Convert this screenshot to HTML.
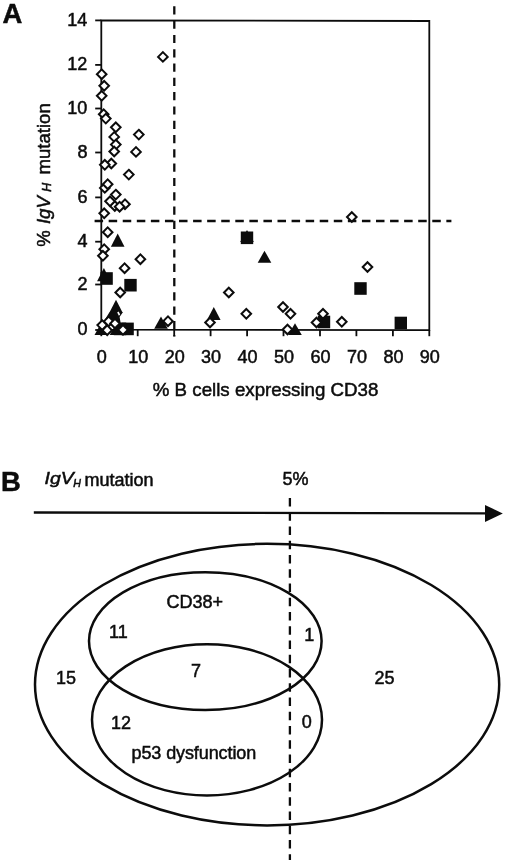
<!DOCTYPE html>
<html lang="en"><head><meta charset="utf-8"><title>Figure</title>
<style>
html,body{margin:0;padding:0;background:#fff;}
body{width:520px;height:866px;overflow:hidden;}
svg{display:block;filter:grayscale(1) blur(0.35px);font-family:"Liberation Sans",Arial,Helvetica,sans-serif;fill:#0c0c0c;}
.ax{stroke:#0c0c0c;stroke-width:1.8;fill:none;}
.dash{stroke:#0c0c0c;stroke-width:2.3;fill:none;}
.dm{fill:#fff;stroke:#0c0c0c;stroke-width:2;}
.bk{fill:#0c0c0c;stroke:none;}
.el{fill:none;stroke:#0c0c0c;stroke-width:2.5;}
.t{font-size:18px;stroke:#0c0c0c;stroke-width:0.5;}
.tb{font-size:18px;stroke:#0c0c0c;stroke-width:0.5;}
.pl{font-size:27.4px;font-weight:bold;stroke:#0c0c0c;stroke-width:0.5;}
</style></head><body>
<svg width="520" height="866" viewBox="0 0 520 866">
<rect x="0" y="0" width="520" height="866" fill="#fff"/>

<text class="pl" x="2.5" y="22.5">A</text>
<path class="ax" d="M101.3 20.3 L429.3 21 L429.3 330.2 L101.3 329.6 Z"/>
<path class="ax" d="M95.2 330.0 H101.3"/>
<text class="t" x="87.4" y="335.3" text-anchor="end">0</text>
<path class="ax" d="M95.2 284.5 H101.3"/>
<text class="t" x="87.4" y="289.8" text-anchor="end">2</text>
<path class="ax" d="M95.2 241.7 H101.3"/>
<text class="t" x="87.4" y="247.0" text-anchor="end">4</text>
<path class="ax" d="M95.2 197.4 H101.3"/>
<text class="t" x="87.4" y="202.7" text-anchor="end">6</text>
<path class="ax" d="M95.2 152.5 H101.3"/>
<text class="t" x="87.4" y="157.8" text-anchor="end">8</text>
<path class="ax" d="M95.2 108.5 H101.3"/>
<text class="t" x="87.4" y="113.8" text-anchor="end">10</text>
<path class="ax" d="M95.2 64.9 H101.3"/>
<text class="t" x="87.4" y="70.2" text-anchor="end">12</text>
<path class="ax" d="M95.2 20.4 H101.3"/>
<text class="t" x="87.4" y="25.7" text-anchor="end">14</text>
<path class="ax" d="M101.3 330 V336.2"/>
<text class="t" x="101.8" y="362.8" text-anchor="middle">0</text>
<path class="ax" d="M137.7 330 V336.2"/>
<text class="t" x="138.2" y="362.8" text-anchor="middle">10</text>
<path class="ax" d="M174.2 330 V336.2"/>
<text class="t" x="174.7" y="362.8" text-anchor="middle">20</text>
<path class="ax" d="M210.6 330 V336.2"/>
<text class="t" x="211.1" y="362.8" text-anchor="middle">30</text>
<path class="ax" d="M247.1 330 V336.2"/>
<text class="t" x="247.6" y="362.8" text-anchor="middle">40</text>
<path class="ax" d="M283.5 330 V336.2"/>
<text class="t" x="284.0" y="362.8" text-anchor="middle">50</text>
<path class="ax" d="M320.0 330 V336.2"/>
<text class="t" x="320.5" y="362.8" text-anchor="middle">60</text>
<path class="ax" d="M356.4 330 V336.2"/>
<text class="t" x="356.9" y="362.8" text-anchor="middle">70</text>
<path class="ax" d="M392.9 330 V336.2"/>
<text class="t" x="393.4" y="362.8" text-anchor="middle">80</text>
<path class="ax" d="M429.3 330 V336.2"/>
<text class="t" x="429.8" y="362.8" text-anchor="middle">90</text>
<path class="dash" d="M174.3 6.3 V336.5" stroke-dasharray="8.2 6.1"/>
<path class="dash" d="M94.6 221 H451.4" stroke-dasharray="8.5 5.57"/>
<path class="bk" d="M117.7 233.6 L124.5 246.7 L110.9 246.7 Z"/>
<path class="bk" d="M103.9 268.1 L110.7 281.3 L97.10000000000001 281.3 Z"/>
<path class="bk" d="M116 299.8 L122.8 313 L109.2 313 Z"/>
<path class="bk" d="M101.3 322.9 L108.1 335 L94.5 335 Z"/>
<path class="bk" d="M116.5 322.9 L123.3 335 L109.7 335 Z"/>
<path class="bk" d="M161 316.4 L167.8 328.8 L154.2 328.8 Z"/>
<path class="bk" d="M213.8 306.9 L220.60000000000002 320 L207.0 320 Z"/>
<path class="bk" d="M264.5 250.7 L271.3 262.7 L257.7 262.7 Z"/>
<path class="bk" d="M295 323.2 L301.8 335 L288.2 335 Z"/>
<path class="bk" d="M247 229.9 L253.8 242 L240.2 242 Z"/>
<path class="bk" d="M109.3 312.6 L104.6 320 L109 325 L121 325 L119.6 317 L122.7 312.6 Z"/>
<rect class="bk" x="100.4" y="272.2" width="12.4" height="12.6"/>
<rect class="bk" x="124.3" y="278.9" width="12.4" height="12.6"/>
<rect class="bk" x="121.4" y="322.6" width="12.4" height="12.6"/>
<rect class="bk" x="113.8" y="322.6" width="12.4" height="12.6"/>
<rect class="bk" x="240.8" y="231.5" width="12.4" height="12.6"/>
<rect class="bk" x="354.3" y="282.2" width="12.4" height="12.6"/>
<rect class="bk" x="317.8" y="315.7" width="12.4" height="12.6"/>
<rect class="bk" x="394.6" y="316.7" width="12.4" height="12.6"/>
<path class="dm" d="M162.9 52.1 L167.7 56.9 L162.9 61.7 L158.1 56.9 Z"/>
<path class="dm" d="M101.7 69.4 L106.5 74.2 L101.7 79.0 L96.9 74.2 Z"/>
<path class="dm" d="M104.2 81.0 L109.0 85.8 L104.2 90.6 L99.4 85.8 Z"/>
<path class="dm" d="M101.7 91.0 L106.5 95.8 L101.7 100.6 L96.9 95.8 Z"/>
<path class="dm" d="M103.7 109.4 L108.5 114.2 L103.7 119.0 L98.9 114.2 Z"/>
<path class="dm" d="M105.8 113.8 L110.6 118.6 L105.8 123.4 L101.0 118.6 Z"/>
<path class="dm" d="M115.8 122.5 L120.6 127.3 L115.8 132.1 L111.0 127.3 Z"/>
<path class="dm" d="M114.2 132.1 L119.0 136.9 L114.2 141.7 L109.4 136.9 Z"/>
<path class="dm" d="M115.8 139.8 L120.6 144.6 L115.8 149.4 L111.0 144.6 Z"/>
<path class="dm" d="M114.2 146.7 L119.0 151.5 L114.2 156.3 L109.4 151.5 Z"/>
<path class="dm" d="M138.8 129.8 L143.6 134.6 L138.8 139.4 L134.0 134.6 Z"/>
<path class="dm" d="M136 147.1 L140.8 151.9 L136 156.7 L131.2 151.9 Z"/>
<path class="dm" d="M111.3 158.7 L116.1 163.5 L111.3 168.3 L106.5 163.5 Z"/>
<path class="dm" d="M104.8 160.0 L109.6 164.8 L104.8 169.6 L100.0 164.8 Z"/>
<path class="dm" d="M128.8 169.8 L133.6 174.6 L128.8 179.4 L124.0 174.6 Z"/>
<path class="dm" d="M104.8 183.1 L109.6 187.9 L104.8 192.7 L100.0 187.9 Z"/>
<path class="dm" d="M107.7 179.4 L112.5 184.2 L107.7 189.0 L102.9 184.2 Z"/>
<path class="dm" d="M115.8 189.8 L120.6 194.6 L115.8 199.4 L111.0 194.6 Z"/>
<path class="dm" d="M114.8 201.2 L119.6 206 L114.8 210.8 L110.0 206 Z"/>
<path class="dm" d="M110 196.5 L114.8 201.3 L110 206.1 L105.2 201.3 Z"/>
<path class="dm" d="M125 199.4 L129.8 204.2 L125 209.0 L120.2 204.2 Z"/>
<path class="dm" d="M119.6 201.9 L124.4 206.7 L119.6 211.5 L114.8 206.7 Z"/>
<path class="dm" d="M104.2 208.5 L109.0 213.3 L104.2 218.1 L99.4 213.3 Z"/>
<path class="dm" d="M107.7 227.4 L112.5 232.2 L107.7 237.0 L102.9 232.2 Z"/>
<path class="dm" d="M104.2 244.4 L109.0 249.2 L104.2 254.0 L99.4 249.2 Z"/>
<path class="dm" d="M102.9 251.0 L107.7 255.8 L102.9 260.6 L98.1 255.8 Z"/>
<path class="dm" d="M140.4 254.4 L145.2 259.2 L140.4 264.0 L135.6 259.2 Z"/>
<path class="dm" d="M124.6 263.4 L129.4 268.2 L124.6 273.0 L119.8 268.2 Z"/>
<path class="dm" d="M120.2 287.7 L125.0 292.5 L120.2 297.3 L115.4 292.5 Z"/>
<path class="dm" d="M108.7 316.6 L113.5 321.4 L108.7 326.2 L103.9 321.4 Z"/>
<path class="dm" d="M115 318.7 L119.8 323.5 L115 328.3 L110.2 323.5 Z"/>
<path class="dm" d="M102.2 320.3 L107.0 325.1 L102.2 329.9 L97.4 325.1 Z"/>
<path class="dm" d="M107.2 325.4 L112.0 330.2 L107.2 335.0 L102.4 330.2 Z"/>
<path class="dm" d="M123 325.1 L127.8 329.9 L123 334.7 L118.2 329.9 Z"/>
<path class="dm" d="M168 316.4 L172.8 321.2 L168 326.0 L163.2 321.2 Z"/>
<path class="dm" d="M228.8 287.7 L233.6 292.5 L228.8 297.3 L224.0 292.5 Z"/>
<path class="dm" d="M210 317.7 L214.8 322.5 L210 327.3 L205.2 322.5 Z"/>
<path class="dm" d="M246.3 309.0 L251.1 313.8 L246.3 318.6 L241.5 313.8 Z"/>
<path class="dm" d="M283 302.2 L287.8 307 L283 311.8 L278.2 307 Z"/>
<path class="dm" d="M290.5 309.0 L295.3 313.8 L290.5 318.6 L285.7 313.8 Z"/>
<path class="dm" d="M287.5 324.7 L292.3 329.5 L287.5 334.3 L282.7 329.5 Z"/>
<path class="dm" d="M316.5 317.7 L321.3 322.5 L316.5 327.3 L311.7 322.5 Z"/>
<path class="dm" d="M351.8 212.2 L356.6 217 L351.8 221.8 L347.0 217 Z"/>
<path class="dm" d="M367.5 262.2 L372.3 267 L367.5 271.8 L362.7 267 Z"/>
<path class="dm" d="M323 309.0 L327.8 313.8 L323 318.6 L318.2 313.8 Z"/>
<path class="dm" d="M341.8 317.0 L346.6 321.8 L341.8 326.6 L337.0 321.8 Z"/>
<path d="M117.2 312.6 L118.6 311.6 L120.2 314.6 L118.9 315.8 Z" fill="#fff"/>
<text class="t" style="font-size:18.72px" x="152.8" y="396.4">% B cells expressing CD38</text>
<g transform="translate(49.9 245.7) rotate(-90)" class="t" style="font-size:18.6px"><text x="-1" y="0">%</text><text x="21.6" y="0" font-style="italic">IgV</text><text x="54" y="0.6" font-style="italic" style="font-size:12.3px">H</text><text x="71.2" y="0">mutation</text></g>
<text class="pl" x="0.9" y="491.4">B</text>
<g class="tb"><text x="44.6" y="484.3" font-style="italic" style="font-size:17.3px" textLength="29.2" lengthAdjust="spacingAndGlyphs">IgV</text><text x="73.2" y="487.3" font-style="italic" style="font-size:10.6px">H</text><text x="84.4" y="486.2">mutation</text></g>
<text class="tb" x="282.4" y="485.2">5%</text>
<path d="M33.8 512.5 L486 513.4" stroke="#0c0c0c" stroke-width="2.3" fill="none"/>
<path class="bk" d="M485 505 L502.8 513.4 L485 522 Z"/>
<path class="dash" d="M289.9 497.9 V860" stroke-dasharray="8.5 5.75"/>
<ellipse class="el" cx="267.1" cy="684.6" rx="232.1" ry="140.8"/>
<ellipse class="el" cx="205.3" cy="641.1" rx="116.3" ry="68.9"/>
<ellipse class="el" cx="207" cy="719.8" rx="115" ry="75.6"/>
<text class="tb" x="166.4" y="608.4">CD38+</text>
<text class="tb" x="109" y="637.8">11</text>
<text class="tb" x="304.3" y="641.2">1</text>
<text class="tb" x="196" y="676.6" text-anchor="middle">7</text>
<text class="tb" x="56" y="683.6">15</text>
<text class="tb" x="374.4" y="684.4">25</text>
<text class="tb" x="111" y="728.5">12</text>
<text class="tb" x="306.7" y="727.7" text-anchor="middle">0</text>
<text class="tb" x="131.5" y="758.5" textLength="124.7" lengthAdjust="spacing">p53 dysfunction</text>
</svg></body></html>
